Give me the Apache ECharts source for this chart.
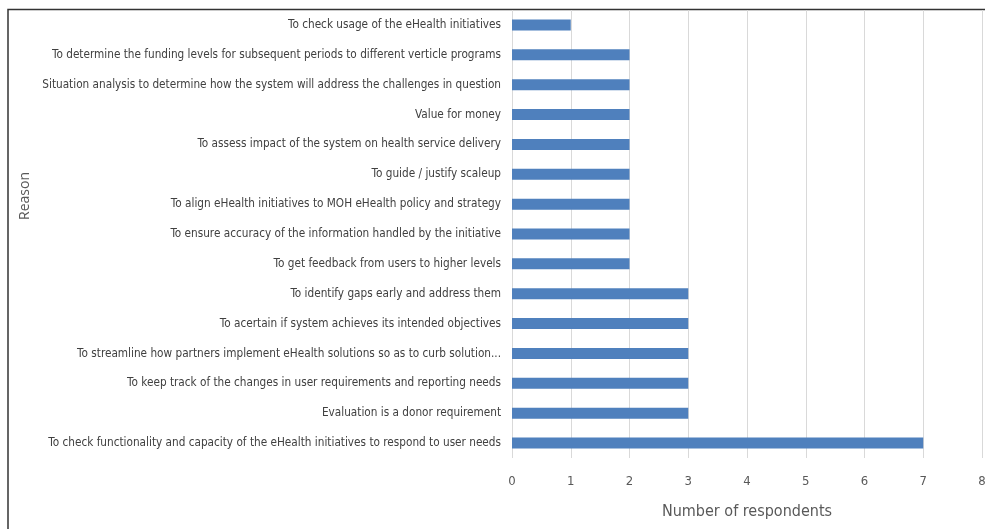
<!DOCTYPE html>
<html>
<head>
<meta charset="utf-8">
<script src="https://cdn.jsdelivr.net/npm/echarts@6/dist/echarts.min.js"></script>
<style>
html, body { margin: 0; padding: 0; background: #fff; }
#container { width: 985px; height: 529px; }
</style>
</head>
<body>
<div id="container"></div>
<script>
var reasons = [
    'To check usage of the eHealth initiatives',
    'To determine the funding levels for subsequent periods to different verticle programs',
    'Situation analysis to determine how the system will address the challenges in question',
    'Value for money',
    'To assess impact of the system on health service delivery',
    'To guide / justify scaleup',
    'To align eHealth initiatives to MOH eHealth policy and strategy',
    'To ensure accuracy of the information handled by the initiative',
    'To get feedback from users to higher levels',
    'To identify gaps early and address them',
    'To acertain if system achieves its intended objectives',
    'To streamline how partners implement eHealth solutions so as to curb solution...',
    'To keep track of the changes in user requirements and reporting needs',
    'Evaluation is a donor requirement',
    'To check functionality and capacity of the eHealth initiatives to respond to user needs'
];
var respondents = [1, 2, 2, 2, 2, 2, 2, 2, 2, 3, 3, 3, 3, 3, 7];

var narrowFont = '"Liberation Sans Narrow", "DejaVu Sans Condensed", sans-serif';

var dom = document.getElementById('container');
var myChart = echarts.init(dom);

var option = {
    animation: false,
    grid: {
        left: 512,
        right: 3,
        top: 10,
        bottom: 71,
        containLabel: false,
        outerBoundsMode: 'none'
    },
    graphic: [{
        type: 'rect',
        shape: { x: 8, y: 9.5, width: 1200, height: 700 },
        style: { fill: 'none', stroke: '#333', lineWidth: 1.5 },
        silent: true
    }, {
        type: 'text',
        x: 25,
        y: 196,
        rotation: Math.PI / 2,
        style: {
            text: 'Reason',
            fill: '#595959',
            font: '14px "Open Sans", sans-serif',
            align: 'center',
            verticalAlign: 'middle'
        }
    }],
    xAxis: {
        type: 'value',
        min: 0,
        max: 8,
        interval: 1,
        name: 'Number of respondents',
        nameLocation: 'middle',
        nameGap: 46,
        nameTextStyle: {
            color: '#595959',
            fontFamily: narrowFont,
            fontSize: 16
        },
        axisLine: { show: false },
        axisTick: { show: false },
        axisLabel: {
            color: '#595959',
            fontFamily: narrowFont,
            fontSize: 13,
            margin: 17
        },
        splitLine: {
            show: true,
            lineStyle: { color: '#d9d9d9', width: 1 }
        }
    },
    yAxis: {
        type: 'category',
        inverse: true,
        data: reasons,
        axisLine: { show: false },
        axisTick: { show: false },
        axisLabel: {
            color: '#404040',
            fontFamily: narrowFont,
            fontSize: 11.7,
            margin: 11
        }
    },
    series: [{
        type: 'bar',
        data: respondents,
        barWidth: 11,
        itemStyle: { color: '#4f80bd' }
    }]
};

myChart.setOption(option);
</script>
</body>
</html>
